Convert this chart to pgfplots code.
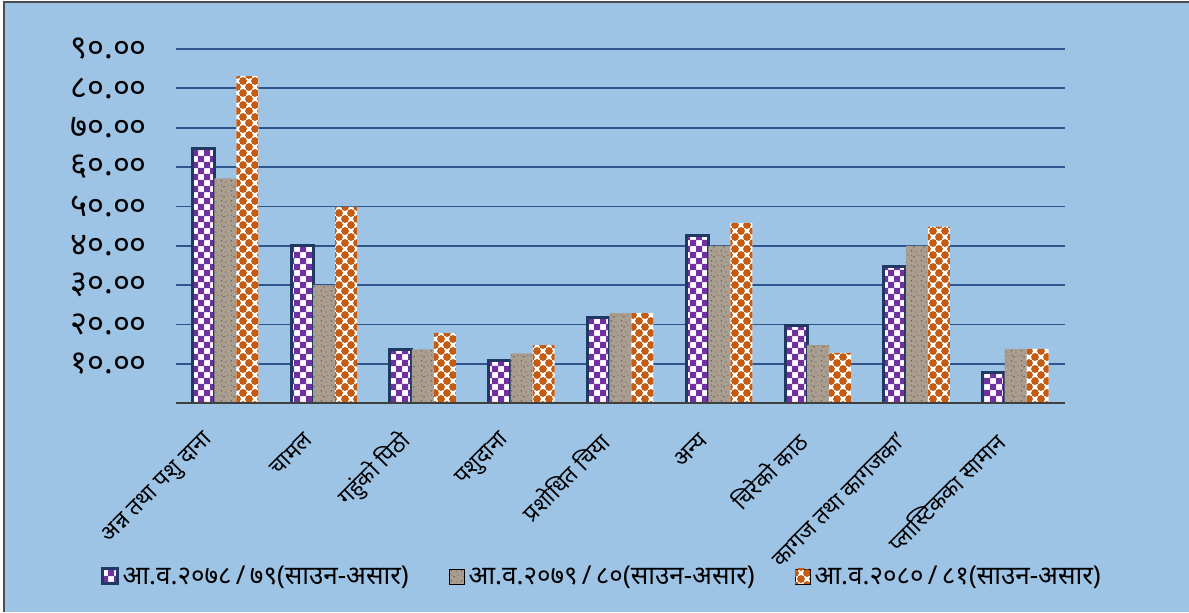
\documentclass[border=0pt]{standalone}
\usepackage{pgfplots}
\pgfplotsset{compat=1.18}
\usepackage{fontspec}
\setmainfont[Script=Devanagari]{Noto Sans}
\usetikzlibrary{patterns}
\definecolor{bgblue}{RGB}{157,195,229}
\definecolor{gridblue}{RGB}{47,85,140}
\definecolor{navy}{RGB}{31,56,100}
\definecolor{purp}{RGB}{112,48,160}
\definecolor{orng}{RGB}{197,90,17}
\definecolor{stone}{RGB}{170,158,144}
\definecolor{stonedark}{RGB}{105,95,85}
\pgfdeclarepatternformonly{bigcheck}{\pgfpoint{-0.1pt}{-0.1pt}}{\pgfpoint{6.1pt}{6.1pt}}{\pgfpoint{6pt}{6pt}}{%
  \pgfpathrectangle{\pgfpointorigin}{\pgfpoint{3.05pt}{3.05pt}}%
  \pgfpathrectangle{\pgfpoint{3pt}{3pt}}{\pgfpoint{3.05pt}{3.05pt}}%
  \pgfusepath{fill}}
\pgfdeclarepatternformonly{dotcheck}{\pgfpoint{-0.5pt}{-0.5pt}}{\pgfpoint{6.5pt}{6.5pt}}{\pgfpoint{6pt}{6pt}}{%
  \pgfpathcircle{\pgfpoint{1.5pt}{1.5pt}}{1.95pt}%
  \pgfpathcircle{\pgfpoint{4.5pt}{4.5pt}}{1.95pt}%
  \pgfusepath{fill}}
\pgfdeclarepatternformonly{speckle}{\pgfpoint{0pt}{0pt}}{\pgfpoint{5pt}{5pt}}{\pgfpoint{5pt}{5pt}}{%
  \pgfpathcircle{\pgfpoint{0.8pt}{1.2pt}}{0.45pt}%
  \pgfpathcircle{\pgfpoint{3.3pt}{0.6pt}}{0.35pt}%
  \pgfpathcircle{\pgfpoint{2.2pt}{3.4pt}}{0.5pt}%
  \pgfpathcircle{\pgfpoint{4.3pt}{4.1pt}}{0.3pt}%
  \pgfpathcircle{\pgfpoint{0.9pt}{4.3pt}}{0.3pt}%
  \pgfusepath{fill}}
\begin{document}
\begin{tikzpicture}
\useasboundingbox (0,0) rectangle (594.5pt,306pt);
\fill[white] (0,0) rectangle (594.5pt,306pt);
\fill[bgblue] (2pt,0) rectangle (594.5pt,305pt);
\draw[black!70, line width=0.8pt] (2pt,0) -- (2pt,305pt) -- (594.5pt,305pt);
\begin{axis}[
  at={(88pt,104.35pt)}, anchor=south west,
  scale only axis, width=444.5pt, height=177.2pt,
  xmin=-0.5, xmax=8.5, ymin=0, ymax=90,
  ybar=0pt, bar width=11pt,
  axis line style={draw=none},
  major tick length=0pt,
  ymajorgrids, grid style={draw=gridblue, line width=0.9pt},
  ytick={0,10,...,90},
  yticklabels={,१०.००,२०.००,३०.००,४०.००,५०.००,६०.००,७०.००,८०.००,९०.००},
  yticklabel style={font=\fontsize{16.3}{18}\selectfont, anchor=east, xshift=-11pt},
  xtick={0,...,8},
  xticklabels={अन्न तथा पशु दाना,चामल,गहुंको पिठो,पशुदाना,प्रशोधित चिया,अन्य,चिरेको काठ,कागज तथा कागजका',प्लास्टिकका सामान},
  xticklabel style={font=\fontsize{11.3}{13}\selectfont, rotate=45, anchor=east, xshift=-14pt, yshift=-6.5pt},
  legend style={at={(-0.092,-0.49)}, anchor=west, legend columns=3, draw=none, fill=none,
    font=\fontsize{13}{15}\selectfont,
    /tikz/every even column/.append style={column sep=18pt}},
  legend image code/.code={\draw[#1] (0pt,-3.5pt) rectangle (7.5pt,4pt);},
]
\addplot[draw=navy, line width=1.5pt, fill=white, postaction={pattern=bigcheck, pattern color=purp}]
  coordinates {(0,64.8) (1,40.0) (2,13.7) (3,10.8) (4,21.7) (5,42.7) (6,19.8) (7,34.8) (8,7.7)};
\addplot[draw=none, fill=stone, postaction={pattern=speckle, pattern color=stonedark}]
  coordinates {(0,57.1) (1,30.0) (2,13.7) (3,12.7) (4,22.9) (5,40.0) (6,14.8) (7,40.0) (8,13.8)};
\addplot[draw=none, fill=white, postaction={pattern=dotcheck, pattern color=orng}]
  coordinates {(0,83.1) (1,49.9) (2,17.8) (3,14.8) (4,22.9) (5,45.8) (6,12.8) (7,44.9) (8,13.8)};
\draw[black!75, line width=0.9pt] (rel axis cs:0,0) -- (rel axis cs:1,0);
\legend{आ.व.२०७८\,/\,७९(साउन-असार),आ.व.२०७९\,/\,८०(साउन-असार),आ.व.२०८०\,/\,८१(साउन-असार)}
\end{axis}
\end{tikzpicture}
\end{document}
